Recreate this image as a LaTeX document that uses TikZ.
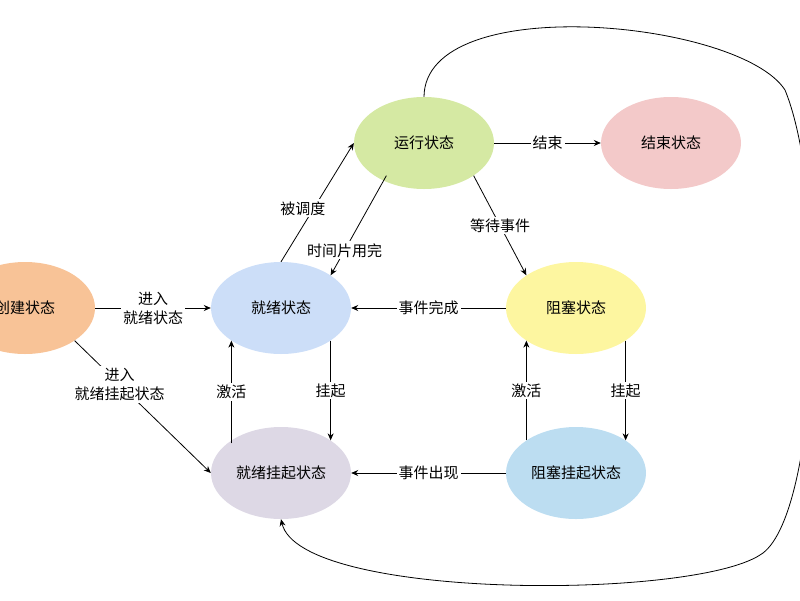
\documentclass[tikz,border=0pt]{standalone}
\usepackage{fontspec}
\setmainfont{Noto Sans CJK SC}
\usetikzlibrary{positioning,arrows.meta,shapes.geometric}
\definecolor{cOrange}{HTML}{F8C397}
\definecolor{cBlue}{HTML}{CCDEF8}
\definecolor{cGreen}{HTML}{D5E9A3}
\definecolor{cPink}{HTML}{F3C9C9}
\definecolor{cYellow}{HTML}{FDF6A0}
\definecolor{cLav}{HTML}{DDD8E5}
\definecolor{cSky}{HTML}{BCDDF1}
\tikzstyle{state} = [ellipse, minimum width=140pt, minimum height=92pt, inner sep=0pt, text centered]
\tikzstyle{lbl} = [fill=white, inner sep=2pt, align=center]
\tikzstyle{edge} = [-{Stealth[length=7pt,width=6pt]}, line width=0.8pt]
\begin{document}
\begin{tikzpicture}[x=1pt, y=-1pt, font=\fontsize{15}{19}\selectfont]
  \useasboundingbox (0,0) rectangle (800,600);
  \node[state, fill=cOrange] (create) at (25,308) {创建状态};
  \node[state, fill=cBlue] (ready) at (281,308) {就绪状态};
  \node[state, fill=cGreen] (run) at (424,143) {运行状态};
  \node[state, fill=cPink] (exit) at (671,143) {结束状态};
  \node[state, fill=cYellow] (block) at (576,308) {阻塞状态};
  \node[state, fill=cLav] (readysus) at (281,473) {就绪挂起状态};
  \node[state, fill=cSky] (blocksus) at (576,473) {阻塞挂起状态};
  % transitions
  \draw[edge] (run) -- node[lbl] {结束} (exit);
  \draw[edge] (create) -- node[lbl] {进入\\就绪状态} (ready);
  \draw[edge] (block) -- node[lbl] {事件完成} (ready);
  \draw[edge] (blocksus) -- node[lbl] {事件出现} (readysus);
  \draw[edge] (ready.north) -- node[lbl, pos=0.45, left=-14pt] {被调度} (run.west);
  \draw[edge] (run.south west) ++(12pt,0) coordinate (rs) (rs) -- node[lbl, pos=0.75] {时间片用完} (ready.north east);
  \draw[edge] (run.south east) -- node[lbl, pos=0.5] {等待事件} (block.north west);
  \draw[edge] (create.south east) -- node[lbl, pos=0.33] {进入\\就绪挂起状态} (readysus.west);
  \draw[edge] (readysus.north west) ++(0,-3pt) coordinate (a1) (a1) -- node[lbl] {激活} (ready.south west);
  \draw[edge] (ready.south east) -- node[lbl] {挂起} (readysus.north east);
  \draw[edge] (blocksus.north west) -- node[lbl] {激活} (block.south west);
  \draw[edge] (block.south east) -- node[lbl] {挂起} (blocksus.north east);
  \draw[edge] (run.north) .. controls (425,-10) and (740,20) .. (785,90)
    .. controls (830,200) and (820,520) .. (760,555)
    .. controls (690,600) and (300,600) .. (readysus.south);
\end{tikzpicture}
\end{document}
